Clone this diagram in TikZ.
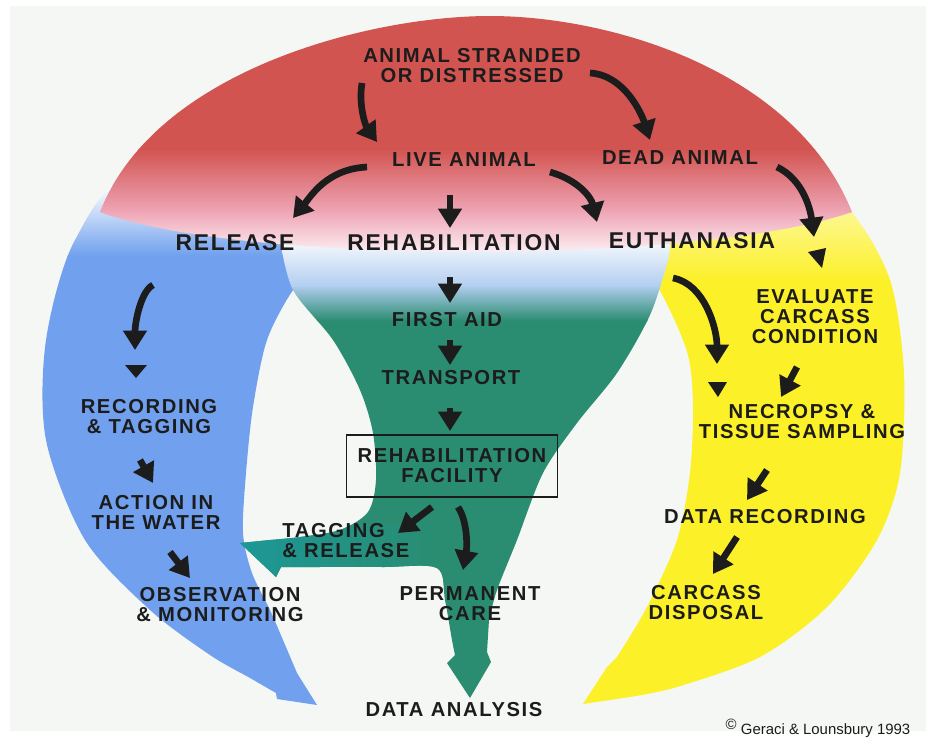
\documentclass[tikz,border=0pt]{standalone}
\usepackage{fontspec}
\setmainfont{Liberation Sans}
\newfontfamily\lblfont{Liberation Sans}[LetterSpace=8]
\usetikzlibrary{arrows.meta,calc}
\definecolor{domered}{RGB}{210,84,80}
\definecolor{domepink}{RGB}{238,165,182}
\definecolor{bandblue}{RGB}{112,160,238}
\definecolor{paleblue}{RGB}{178,206,240}
\definecolor{bandgreen}{RGB}{42,140,112}
\definecolor{bandteal}{RGB}{28,152,152}
\definecolor{bandyellow}{RGB}{252,240,40}
\definecolor{paper}{RGB}{244,247,244}
\definecolor{ink}{RGB}{28,28,28}

\tikzset{
  lbl/.style={font=\lblfont\bfseries\fontsize{11.5}{11.4}\selectfont,align=center,inner sep=0pt,text=ink},
  big/.style={lbl,font=\lblfont\bfseries\fontsize{13}{13}\selectfont},
  flow/.style={draw=ink,line width=3.8pt,-{Triangle[length=11pt,width=13pt]}},
  drop/.style={fill=ink}
}

\begin{document}
\begin{tikzpicture}[x=0.02cm,y=-0.02cm]
  \useasboundingbox (0,0) rectangle (931,738);
  \fill[white] (0,0) rectangle (931,738);
  \fill[paper] (10,6) rectangle (926,731);

  % yellow band
  \begin{scope}
    \clip plot[smooth] coordinates {(640,175) (780,150) (850,210) (890,280) (904,373) (900,473) (877,540) (827,607) (760,657) (677,687) (630,697)}
      -- (583,704) -- (607,667)
      -- plot[smooth] coordinates {(617,657) (647,607) (677,540) (690,473) (693,407) (688,355) (665,300) (640,260)} -- cycle;
    \fill[bandyellow] (560,280) rectangle (931,738);
    \shade[top color=white,bottom color=bandyellow] (560,140) rectangle (931,281);
  \end{scope}

  % blue band
  \begin{scope}
    \clip plot[smooth] coordinates {(330,175) (140,170) (75,240) (46,340) (46,440) (85,540) (150,610) (210,655) (250,678) (276,693)}
      -- (277,699) -- (317,705)
      -- plot[smooth] coordinates {(297,673) (283,640) (270,610) (252,573) (243,533) (246,473) (253,407) (267,340) (293,290) (320,262)} -- cycle;
    \fill[bandblue] (0,255) rectangle (400,738);
    \shade[top color=white,bottom color=bandblue] (0,185) rectangle (400,256);
  \end{scope}

  % green funnel
  \begin{scope}
    \clip plot[smooth] coordinates {(280,240) (293,290) (333,340) (360,390) (373,433) (376,480) (368,512) (340,530) (300,537) (270,540)}
      -- (240,543) -- (276,577) -- (281,567)
      -- plot[smooth] coordinates {(317,567) (383,567) (437,568) (445,600) (452,640) (455,655)}
      -- (447,663) -- (470,698) -- (491,662) -- (487,652)
      -- plot[smooth] coordinates {(489,620) (497,590) (517,540) (543,473) (577,423) (617,373) (650,315) (668,260) (670,240)} -- cycle;
    \fill[bandgreen] (230,320) rectangle (700,738);
    \shade[top color=paleblue,bottom color=bandgreen] (230,285) rectangle (700,321);
    \shade[top color=white,bottom color=paleblue] (230,235) rectangle (700,286);
    \shade[left color=bandteal,right color=bandgreen] (230,525) rectangle (445,590);
  \end{scope}

  % red dome
  \begin{scope}
    \clip (100,212) .. controls (155,70) and (370,16) .. (490,16)
      .. controls (610,16) and (795,70) .. (852,212)
      .. controls (700,265) and (240,265) .. (100,212) -- cycle;
    \fill[domered] (0,0) rectangle (931,150);
    \shade[top color=domered,bottom color=domepink] (0,149) rectangle (931,212);
    \shade[top color=domepink,bottom color=white] (0,211) rectangle (931,262);
  \end{scope}

  \node[lbl] (strand) at (472,66) {ANIMAL STRANDED\\OR DISTRESSED};
  \node[lbl] (live) at (464,160) {LIVE ANIMAL};
  \node[lbl] (dead) at (680,158) {DEAD ANIMAL};
  \node[big] (release) at (235,243) {RELEASE};
  \node[big] (rehab) at (454,243) {REHABILITATION};
  \node[big] (euth) at (692,241) {EUTHANASIA};
  \node[lbl] (aid) at (447,320) {FIRST AID};
  \node[lbl] (transport) at (451,378) {TRANSPORT};
  \node[lbl,draw=ink,line width=0.7pt,minimum width=4.22cm,minimum height=1.24cm] (facility) at (452,466) {REHABILITATION\\FACILITY};
  \node[lbl,align=left,anchor=west] (tagrel) at (282,541) {TAGGING\\\& RELEASE};
  \node[lbl] (perm) at (470,604) {PERMANENT\\CARE};
  \node[lbl] (analysis) at (454,710) {DATA ANALYSIS};
  \node[lbl] (rectag) at (149,417) {RECORDING\\\& TAGGING};
  \node[lbl] (action) at (156,512) {ACTION IN\\THE WATER};
  \node[lbl] (observe) at (220,605) {OBSERVATION\\\& MONITORING};
  \node[lbl] (evaluate) at (815,317) {EVALUATE\\CARCASS\\CONDITION};
  \node[lbl] (necropsy) at (802,422) {NECROPSY \&\\TISSUE SAMPLING};
  \node[lbl] (datarec) at (765,517) {DATA RECORDING};
  \node[lbl] (disposal) at (706,603) {CARCASS\\DISPOSAL};
  \node[font=\fontsize{8.5}{9}\selectfont,text=ink,inner sep=0pt] (credit) at (818,728) {\raisebox{3pt}{\textcopyright}\ Geraci \& Lounsbury 1993};

  \draw[flow] ([shift={(-110,17)}]strand.center) .. controls +(-4,25) and +(-10,-14) .. ([shift={(-87,-18)}]live.center);
  \draw[flow] ([shift={(118,7)}]strand.center) .. controls +(35,2) and +(-8,-25) .. ([shift={(-30,-18)}]dead.center);
  \draw[flow] ([shift={(-97,7)}]live.center) .. controls +(-40,2) and +(18,-22) .. ([shift={(58,-25)}]release.center);
  \draw[flow] ([shift={(-14,35)}]live.center) -- ([shift={(-4,-15)}]rehab.center);
  \draw[flow] ([shift={(86,12)}]live.center) .. controls +(28,8) and +(-6,-25) .. ([shift={(-95,-19)}]euth.center);
  \draw[flow] ([shift={(97,9)}]dead.center) .. controls +(25,12) and +(-4,-30) .. ([shift={(-1,-80)}]evaluate.center);
  \fill[drop] ([shift={(-7,-65)}]evaluate.center) -- ([shift={(11,-69)}]evaluate.center) -- ([shift={(7,-49)}]evaluate.center) -- cycle;

  \draw[flow] ([shift={(-82,42)}]release.center) .. controls +(-12,6) and +(0,-28) .. ([shift={(-14,-67)}]rectag.center);
  \fill[drop] ([shift={(-24,-52)}]rectag.center) -- ([shift={(-2,-52)}]rectag.center) -- ([shift={(-13,-39)}]rectag.center) -- cycle;
  \draw[flow] ([shift={(-9,43)}]rectag.center) -- ([shift={(-3,-29)}]action.center);
  \draw[flow] ([shift={(14,40)}]action.center) -- ([shift={(-30,-27)}]observe.center);

  \foreach \a/\b/\s/\e in {rehab/aid/{(-4,34)}/{(3,-17)},aid/transport/{(3,20)}/{(-1,-13)},transport/facility/{(-1,30)}/{(-2,-35)}}
    \draw[flow] ([shift=\s]\a.center) -- ([shift=\e]\b.center);
  \draw[flow] ([shift={(-20,41)}]facility.center) -- ([shift={(116,-8)}]tagrel.west);
  \draw[flow] ([shift={(6,41)}]facility.center) .. controls +(10,15) and +(4,-22) .. ([shift={(-7,-34)}]perm.center);

  \draw[flow] ([shift={(-19,37)}]euth.center) .. controls +(32,6) and +(0,-35) .. ([shift={(-85,-58)}]necropsy.center);
  \fill[drop] ([shift={(-94,-40)}]necropsy.center) -- ([shift={(-75,-40)}]necropsy.center) -- ([shift={(-84,-25)}]necropsy.center) -- cycle;
  \draw[flow] ([shift={(-18,50)}]evaluate.center) -- ([shift={(-21,-25)}]necropsy.center);
  \draw[flow] ([shift={(-35,48)}]necropsy.center) -- ([shift={(-18,-17)}]datarec.center);
  \draw[flow] ([shift={(-28,20)}]datarec.center) -- ([shift={(7,-29)}]disposal.center);
\end{tikzpicture}
\end{document}
